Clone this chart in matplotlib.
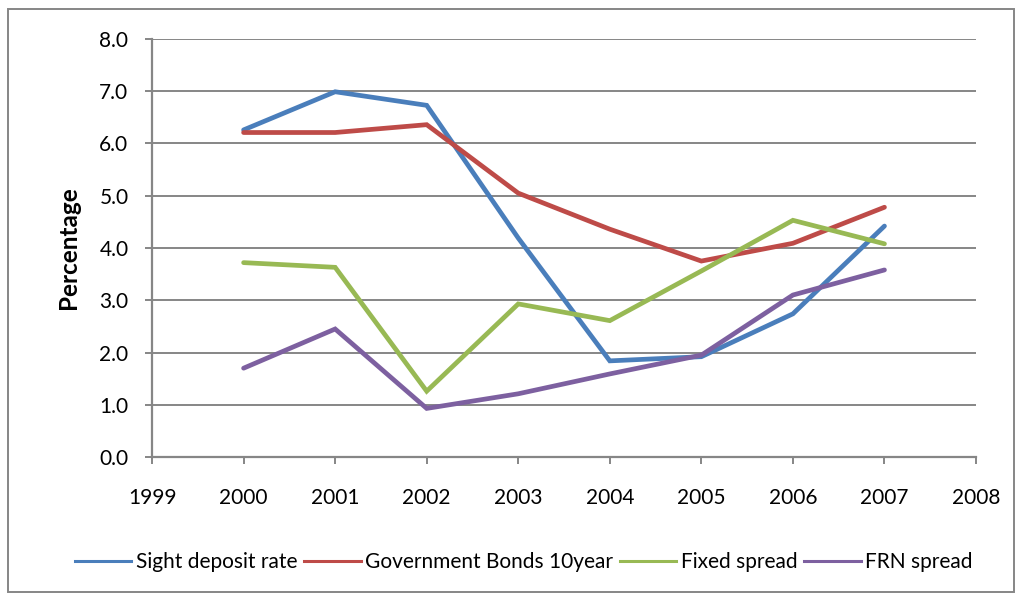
import matplotlib
matplotlib.use("Agg")
import matplotlib.pyplot as plt
from matplotlib.patches import Rectangle

plt.rcParams['font.family'] = ['Lato', 'DejaVu Sans']

years = [2000, 2001, 2002, 2003, 2004, 2005, 2006, 2007]
sight_deposit = [6.26, 6.99, 6.73, 4.19, 1.84, 1.92, 2.74, 4.42]
gov_bonds_10y = [6.21, 6.21, 6.36, 5.05, 4.36, 3.75, 4.09, 4.78]
fixed_spread = [3.72, 3.63, 1.26, 2.93, 2.61, 3.56, 4.53, 4.08]
frn_spread = [1.70, 2.45, 0.93, 1.21, 1.59, 1.95, 3.10, 3.58]

series = [
    ("Sight deposit rate", sight_deposit, "#4A7EBB"),
    ("Government Bonds 10year", gov_bonds_10y, "#BE4B48"),
    ("Fixed spread", fixed_spread, "#98B954"),
    ("FRN spread", frn_spread, "#7D60A0"),
]

fig = plt.figure(figsize=(10.17, 5.95), dpi=100)
ax = fig.add_axes([0.1495, 0.2319, 0.8102, 0.7026])

grid_col = "#868686"
for y in range(1, 9):
    ax.axhline(y, color=grid_col, lw=1.4, zorder=1)

handles = []
for name, vals, col in series:
    ax.plot(years, vals, color=col, lw=3.4, solid_capstyle='round',
            solid_joinstyle='miter', zorder=3)
    h, = ax.plot([], [], color=col, lw=2.2, label=name)
    handles.append(h)

ax.set_xlim(1999, 2008)
ax.set_ylim(0, 8)
ax.set_xticks(range(1999, 2009))
ax.set_yticks(range(0, 9))
ax.set_yticklabels([f"{v:.1f}" for v in range(0, 9)])

for s in ["top", "right"]:
    ax.spines[s].set_visible(False)
for s in ["left", "bottom"]:
    ax.spines[s].set_color(grid_col)
    ax.spines[s].set_linewidth(1.6)
ax.tick_params(axis='both', colors=grid_col, width=1.4, length=5,
               labelcolor='black', labelsize=15)
ax.tick_params(axis='x', pad=17)
ax.tick_params(axis='y', pad=12)
ax.set_ylabel("Percentage", fontsize=17.5, fontweight='bold', labelpad=14)

fig.legend(handles=handles, loc='center', bbox_to_anchor=(0.515, 0.055),
           ncol=4, frameon=False, fontsize=15, handlelength=2.7,
           handletextpad=0.2, columnspacing=0.35)

fig.patches.append(Rectangle((8 / 1017, 3 / 595), 1 - 11 / 1017, 1 - 12 / 595,
                             transform=fig.transFigure, fill=False,
                             edgecolor=grid_col, lw=1.4))

fig.savefig("out.png", dpi=100)
